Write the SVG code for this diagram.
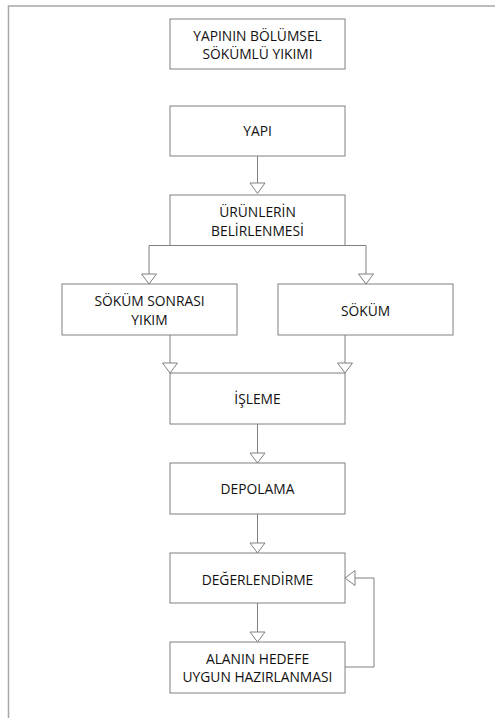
<svg xmlns="http://www.w3.org/2000/svg" width="495" height="718" viewBox="0 0 495 718">
<style>
.box{fill:#fff;stroke:#808080;stroke-width:1}
.ln{fill:none;stroke:#808080;stroke-width:1}
.ah{fill:#fff;stroke:#808080;stroke-width:1}
text{font-family:"Open Sans","Noto Sans",sans-serif;font-size:13.8px;fill:#111;text-anchor:middle}
.frame{fill:none;stroke:#a6a6a6;stroke-width:1.5}
</style>
<rect width="495" height="718" fill="#fff"/>
<path class="frame" d="M8.5,718 V6 H495"/>
<g id="connectors">
<path class="ln" d="M257.5,156 V193"/>
<polygon class="ah" points="250,183 265,183 257.5,193.5"/>
<path class="ln" d="M170,245.5 H149 V284"/>
<polygon class="ah" points="141.5,274 156.5,274 149,284"/>
<path class="ln" d="M345,245.5 H366 V284"/>
<polygon class="ah" points="358.5,274 373.5,274 366,284"/>
<path class="ln" d="M170,335 V373"/>
<polygon class="ah" points="162.5,363 177.5,363 170,373"/>
<path class="ln" d="M345,335 V373"/>
<polygon class="ah" points="337.5,363 352.5,363 345,373"/>
<path class="ln" d="M257.5,424 V463"/>
<polygon class="ah" points="250,453 265,453 257.5,463"/>
<path class="ln" d="M257.5,514 V553"/>
<polygon class="ah" points="250,543 265,543 257.5,553"/>
<path class="ln" d="M257.5,603 V642"/>
<polygon class="ah" points="250,632 265,632 257.5,642"/>
<path class="ln" d="M345,667 H374 V578 H355"/>
<polygon class="ah" points="355,570.5 355,585.5 345,578"/>
</g>
<g id="n-title"><rect class="box" x="170" y="19" width="175" height="50"/><text x="257.5" y="40.5">YAPININ BÖLÜMSEL</text><text x="257.5" y="59">SÖKÜMLÜ YIKIMI</text></g>
<g id="n-yapi"><rect class="box" x="170" y="106" width="175" height="50"/><text x="257.5" y="136">YAPI</text></g>
<g id="n-urunler"><rect class="box" x="170" y="195" width="175" height="50.5"/><text x="257.5" y="216.5">ÜRÜNLERİN</text><text x="257.5" y="236">BELİRLENMESİ</text></g>
<g id="n-sokumsonrasi"><rect class="box" x="62" y="284" width="175" height="51"/><text x="149.5" y="305.5">SÖKÜM SONRASI</text><text x="149.5" y="325">YIKIM</text></g>
<g id="n-sokum"><rect class="box" x="278" y="284" width="175" height="51"/><text x="365.5" y="315.5">SÖKÜM</text></g>
<g id="n-isleme"><rect class="box" x="170" y="373" width="175" height="51"/><text x="257.5" y="404">İŞLEME</text></g>
<g id="n-depolama"><rect class="box" x="170" y="463" width="175" height="51"/><text x="257.5" y="494">DEPOLAMA</text></g>
<g id="n-degerlendirme"><rect class="box" x="170" y="553" width="175" height="50"/><text x="257.5" y="584.5">DEĞERLENDİRME</text></g>
<g id="n-alanin"><rect class="box" x="170" y="642" width="175" height="51"/><text x="257.5" y="663.5">ALANIN HEDEFE</text><text x="257.5" y="682">UYGUN HAZIRLANMASI</text></g>
</svg>
